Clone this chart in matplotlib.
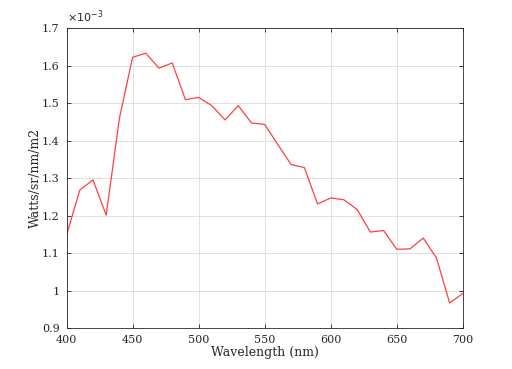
import matplotlib
matplotlib.use("Agg")
import matplotlib.pyplot as plt
from matplotlib.ticker import FuncFormatter

wavelength = list(range(400, 701, 10))
radiance = [1.148e-3, 1.268e-3, 1.295e-3, 1.201e-3, 1.459e-3, 1.622e-3, 1.633e-3,
            1.593e-3, 1.607e-3, 1.509e-3, 1.515e-3, 1.493e-3, 1.455e-3, 1.493e-3,
            1.447e-3, 1.443e-3, 1.389e-3, 1.336e-3, 1.328e-3, 1.231e-3, 1.247e-3,
            1.242e-3, 1.216e-3, 1.156e-3, 1.160e-3, 1.110e-3, 1.111e-3, 1.140e-3,
            1.087e-3, 0.967e-3, 0.992e-3]
xticks = [400, 450, 500, 550, 600, 650, 700]
yticks = [0.9e-3, 1.0e-3, 1.1e-3, 1.2e-3, 1.3e-3, 1.4e-3, 1.5e-3, 1.6e-3, 1.7e-3]

plt.rcParams['font.family'] = ['DejaVu Serif']
fig = plt.figure(figsize=(5.12, 3.69), dpi=100)
ax = fig.add_axes([0.130, 0.111, 0.774, 0.813])
ax.plot(wavelength, radiance, color='#ff4040', linewidth=0.9)
ax.set_xlim(400, 700)
ax.set_ylim(0.9e-3, 1.7e-3)
ax.set_xticks(xticks)
ax.set_yticks(yticks)
ax.yaxis.set_major_formatter(FuncFormatter(lambda v, p: '%g' % round(v * 1e3, 3)))
ax.grid(True, color='#dcdcdc', linewidth=0.6)
ax.set_axisbelow(True)
for s in ax.spines.values():
    s.set_color('#262626')
    s.set_linewidth(0.6)
ax.tick_params(direction='in', top=True, right=True, length=3, width=0.6,
               colors='#262626', labelsize=8)
ax.tick_params(axis='x', pad=5)
ax.tick_params(axis='y', pad=5)
ax.set_xlabel('Wavelength (nm)', fontsize=9, color='#262626', labelpad=1)
ax.set_ylabel('Watts/sr/nm/m2', fontsize=9, color='#262626', labelpad=0)
ax.text(0.0, 1.01, r'$\times10^{-3}$', transform=ax.transAxes, fontsize=8,
        color='#262626', ha='left', va='bottom')
fig.savefig('out.png', dpi=100)
